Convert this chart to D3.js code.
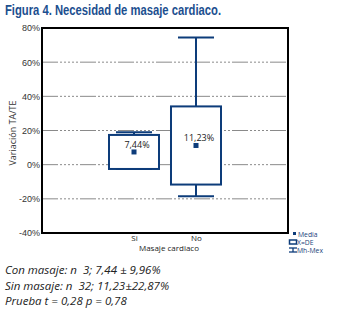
<!DOCTYPE html>
<html lang="es">
<head>
<meta charset="utf-8">
<script src="https://d3js.org/d3.v7.min.js"></script>
<style>
  body { margin: 0; background: #fff; }
  text { font-family: "Open Sans", "DejaVu Sans", sans-serif; }
</style>
</head>
<body>
<script>
// data
const categories = ["Si", "No"];
const means = [7.44, 11.23];
const sds = [9.96, 22.87];
const maxes = [19.0, 74.5];
const mins = [-2.52, -18.5];
const meanLabels = ["7,44%", "11,23%"];
const yTicks = [-40, -20, 0, 20, 40, 60, 80];
const footLines = [
  "Con masaje: n  3; 7,44 \u00b1 9,96%",
  "Sin masaje: n  32; 11,23\u00b122,87%",
  "Prueba t = 0,28 p = 0,78"
];

const W = 344, H = 313;
const plot = { left: 42, right: 288, top: 28, bottom: 233 };
const blue = "#0d3c7a";

const svg = d3.select("body").append("svg")
  .attr("width", W).attr("height", H);

const x = d3.scalePoint()
  .domain(categories)
  .range([plot.left, plot.right])
  .padding(1.484);

const y = d3.scaleLinear()
  .domain([-40, 80])
  .range([plot.bottom, plot.top]);

// title
svg.append("text")
  .attr("x", 5).attr("y", 15)
  .attr("textLength", 216).attr("lengthAdjust", "spacingAndGlyphs")
  .style("font-family", "'Liberation Sans Narrow', 'Arial Narrow', 'Liberation Sans', sans-serif")
  .style("font-weight", "bold").style("font-size", "14px")
  .attr("fill", "#1c4f8f")
  .text("Figura 4. Necesidad de masaje cardiaco.");

// grid
svg.append("g").selectAll("line")
  .data(yTicks.filter(d => d > -40 && d < 80))
  .join("line")
  .attr("x1", plot.left).attr("x2", plot.right)
  .attr("y1", d => y(d)).attr("y2", d => y(d))
  .attr("stroke", "#8a8a8a").attr("stroke-width", 1)
  .attr("stroke-dasharray", "16,2,2,2,2,2,2,2,2,2,2,2");

// y axis labels
const leftAxis = d3.axisLeft(y).tickValues(yTicks)
  .tickSize(0).tickPadding(2).tickFormat(d => d + "%");
const ga = svg.append("g")
  .attr("transform", "translate(" + plot.left + ",0)")
  .call(leftAxis);
ga.select(".domain").remove();
ga.selectAll("text")
  .style("font-family", "'Liberation Sans', Arial, sans-serif")
  .style("font-size", "9px").attr("fill", "#333");

// x axis labels
const bottomAxis = d3.axisBottom(x).tickSize(0).tickPadding(0);
const gb = svg.append("g")
  .attr("transform", "translate(0," + plot.bottom + ")")
  .call(bottomAxis);
gb.select(".domain").remove();
gb.selectAll("text")
  .attr("dy", null).attr("y", 7.5)
  .style("font-family", "'Open Sans', sans-serif")
  .style("font-size", "8px").attr("fill", "#222");

svg.append("text")
  .attr("x", 169).attr("y", 250.5)
  .attr("text-anchor", "middle")
  .style("font-size", "8px").attr("fill", "#222")
  .text("Masaje cardiaco");

svg.append("text")
  .attr("transform", "translate(16,133) rotate(-90)")
  .attr("text-anchor", "middle")
  .style("font-size", "9px").attr("fill", "#333")
  .text("Variación TA/TE");

// frame
svg.append("rect")
  .attr("x", plot.left).attr("y", plot.top)
  .attr("width", plot.right - plot.left)
  .attr("height", plot.bottom - plot.top)
  .attr("fill", "none").attr("stroke", "#000").attr("stroke-width", 2);

// boxes
const boxW = 50, capW = 36;
const groups = svg.append("g").selectAll("g")
  .data(categories.map((c, i) => ({
    c, m: means[i], sd: sds[i], max: maxes[i], min: mins[i], lab: meanLabels[i]
  })))
  .join("g");

groups.append("line")
  .attr("x1", d => x(d.c)).attr("x2", d => x(d.c))
  .attr("y1", d => y(d.max)).attr("y2", d => y(d.min))
  .attr("stroke", blue).attr("stroke-width", 2);

groups.append("line")
  .attr("x1", d => x(d.c) - capW / 2).attr("x2", d => x(d.c) + capW / 2)
  .attr("y1", d => y(d.max)).attr("y2", d => y(d.max))
  .attr("stroke", blue).attr("stroke-width", 2);

groups.append("line")
  .attr("x1", d => x(d.c) - capW / 2).attr("x2", d => x(d.c) + capW / 2)
  .attr("y1", d => y(d.min)).attr("y2", d => y(d.min))
  .attr("stroke", blue).attr("stroke-width", 2);

groups.append("rect")
  .attr("x", d => x(d.c) - boxW / 2)
  .attr("y", d => y(d.m + d.sd))
  .attr("width", boxW)
  .attr("height", d => y(d.m - d.sd) - y(d.m + d.sd))
  .attr("fill", "#fff").attr("stroke", blue).attr("stroke-width", 2);

groups.append("rect")
  .attr("x", d => x(d.c) - 2.5).attr("y", d => y(d.m) - 2.5)
  .attr("width", 5).attr("height", 5)
  .attr("fill", blue);

groups.append("text")
  .attr("x", d => x(d.c) + 3).attr("y", d => y(d.m) - 4)
  .attr("text-anchor", "middle")
  .style("font-size", "9px").attr("fill", "#222")
  .text(d => d.lab);

// legend
const lg = svg.append("g").style("font-size", "6.8px").attr("fill", "#1c3f7a");
lg.append("rect").attr("x", 293).attr("y", 232).attr("width", 3).attr("height", 3).attr("fill", blue);
lg.append("text").attr("x", 298).attr("y", 236.5).text("Media");
lg.append("rect").attr("x", 289.5).attr("y", 240).attr("width", 7).attr("height", 4)
  .attr("fill", "none").attr("stroke", blue).attr("stroke-width", 1.5);
lg.append("text").attr("x", 297).attr("y", 244.5).text("X=DE");
lg.append("line").attr("x1", 289).attr("x2", 297).attr("y1", 248).attr("y2", 248).attr("stroke", blue).attr("stroke-width", 1.3);
lg.append("line").attr("x1", 289).attr("x2", 297).attr("y1", 252).attr("y2", 252).attr("stroke", blue).attr("stroke-width", 1.3);
lg.append("line").attr("x1", 293).attr("x2", 293).attr("y1", 248).attr("y2", 252).attr("stroke", blue).attr("stroke-width", 1.3);
lg.append("text").attr("x", 297).attr("y", 252.5).text("Mh-Mex");

// footnote
svg.append("g").selectAll("text")
  .data(footLines)
  .join("text")
  .attr("x", 5).attr("y", (d, i) => 274 + i * 15.5)
  .attr("xml:space", "preserve")
  .style("white-space", "pre")
  .style("font-style", "italic").style("font-size", "11.5px")
  .attr("fill", "#222")
  .text(d => d);
</script>
</body>
</html>
